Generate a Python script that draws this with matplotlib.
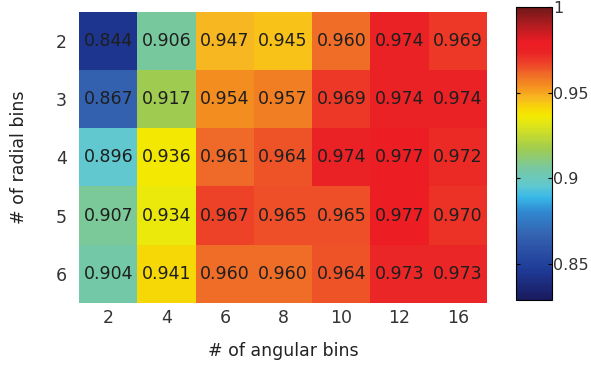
import numpy as np
import matplotlib
matplotlib.use('Agg')
import matplotlib.pyplot as plt
from matplotlib.colors import LinearSegmentedColormap

# data
angular_bins = ['2', '4', '6', '8', '10', '12', '16']
radial_bins = ['2', '3', '4', '5', '6']
acc = np.array([
    [0.844, 0.906, 0.947, 0.945, 0.960, 0.974, 0.969],
    [0.867, 0.917, 0.954, 0.957, 0.969, 0.974, 0.974],
    [0.896, 0.936, 0.961, 0.964, 0.974, 0.977, 0.972],
    [0.907, 0.934, 0.967, 0.965, 0.965, 0.977, 0.970],
    [0.904, 0.941, 0.960, 0.960, 0.964, 0.973, 0.973],
])

vmin, vmax = 0.829, 1.0

# muted jet, as in the printed figure
anchors = [
    (0.00, '#1a1a5e'), (0.10, '#1e3a96'), (0.22, '#3462b0'),
    (0.30, '#3088d0'), (0.35, '#38b8e8'), (0.39, '#60c8d0'),
    (0.45, '#78c8a0'), (0.515, '#a0cc50'), (0.61, '#e8e810'),
    (0.63, '#f4e800'), (0.655, '#f8d808'), (0.69, '#f8b820'),
    (0.73, '#f59020'), (0.77, '#f06c28'), (0.81, '#ee4028'),
    (0.85, '#ea2226'), (0.88, '#ee1c24'), (0.94, '#b01c20'),
    (1.00, '#701818'),
]
cmap = LinearSegmentedColormap.from_list('mjet', anchors)

fs = 12.5
fig = plt.figure(figsize=(5.91, 3.65), dpi=100)
ax = fig.add_axes([0.134, 0.170, 0.690, 0.797])
cax = fig.add_axes([0.873, 0.178, 0.061, 0.803])

im = ax.imshow(acc, cmap=cmap, vmin=vmin, vmax=vmax, aspect='auto',
               interpolation='nearest')

for i in range(acc.shape[0]):
    for j in range(acc.shape[1]):
        ax.text(j, i, '%.3f' % acc[i, j], ha='center', va='center',
                fontsize=fs, color='#1e1e1e')

ax.set_xticks(range(len(angular_bins)))
ax.set_xticklabels(angular_bins)
ax.set_yticks(range(len(radial_bins)))
ax.set_yticklabels(radial_bins)
ax.tick_params(length=0, labelsize=fs, labelcolor='#333333')
ax.tick_params(axis='x', pad=4)
ax.tick_params(axis='y', pad=9)
for s in ax.spines.values():
    s.set_visible(False)

ax.set_xlabel('# of angular bins', fontsize=fs, color='#222222', labelpad=11)
ax.set_ylabel('# of radial bins', fontsize=fs, color='#222222', labelpad=20)

cb = fig.colorbar(im, cax=cax)
cb.outline.set_linewidth(0.8)
cb.set_ticks([0.85, 0.9, 0.95, 1.0])
cb.set_ticklabels(['0.85', '0.9', '0.95', '1'])
cax.tick_params(labelsize=11.5, labelcolor='#333333', direction='in',
                length=3, left=True, right=True, pad=1)

plt.savefig('out.png', dpi=100)
